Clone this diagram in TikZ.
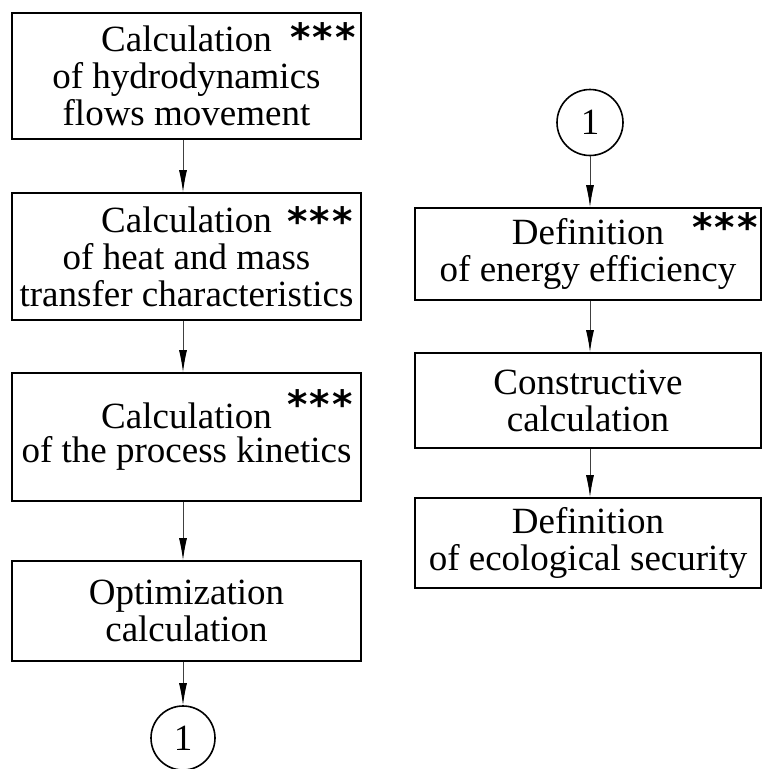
\documentclass[tikz,border=0pt]{standalone}
\usepackage{fontspec}
\setmainfont{Liberation Serif}
\newfontfamily\starfont{DejaVu Sans}
\usetikzlibrary{arrows.meta,positioning}

\begin{document}
\begin{tikzpicture}[x=1pt, y=-1pt,
    box/.style={draw, line width=1.6pt, inner sep=0pt, align=center, font=\fontsize{37}{37}\selectfont},
    lbox/.style={box, minimum width=349pt},
    rbox/.style={box, minimum width=346pt},
    conn/.style={circle, draw, line width=1.6pt, inner sep=0pt, font=\fontsize{37}{37}\selectfont},
    stars/.style={inner sep=0pt, font=\starfont\bfseries\fontsize{39}{39}\selectfont},
    arr/.style={draw=black!75, line width=1pt, -{Latex[length=22pt, width=8pt, color=black]}}]
    \useasboundingbox (0,0) rectangle (763,769);
    % left column
    \node[lbox, minimum height=126pt] (l1) at (186.5,76) {Calculation\\of hydrodynamics\\flows movement};
    \node[lbox, minimum height=127pt] (l2) at (186.5,256.5) {Calculation\\of heat and mass\\transfer characteristics};
    \node[lbox, minimum height=128pt, font=\fontsize{37}{34}\selectfont] (l3) at (186.5,437) {Calculation\\of the process kinetics};
    \node[lbox, minimum height=100pt] (l4) at (186.5,611) {Optimization\\calculation};
    \node[conn, minimum size=64pt] (c1) at (183,738) {1};
    % right column
    \node[conn, minimum size=66pt] (c2) at (590,122.5) {1};
    \node[rbox, minimum height=92pt] (r1) at (588,254) {Definition\\of energy efficiency};
    \node[rbox, minimum height=95pt] (r2) at (588,400.5) {Constructive\\calculation};
    \node[rbox, minimum height=90pt] (r3) at (588,543) {Definition\\of ecological security};
    % marks
    \node[stars, below left=10pt and 6pt of l1.north east] (s1) {*\hspace{2pt}*\hspace{2pt}*};
    \node[stars, below left=14pt and 9pt of l2.north east] (s2) {*\hspace{2pt}*\hspace{2pt}*};
    \node[stars, below left=17pt and 9pt of l3.north east] (s3) {*\hspace{2pt}*\hspace{2pt}*};
    \node[stars, below left=5pt and 4pt of r1.north east] (s4) {*\hspace{2pt}*\hspace{2pt}*};
    % arrows
    \draw[arr] (l1.south -| c1) -- (l2.north -| c1);
    \draw[arr] (l2.south -| c1) -- (l3.north -| c1);
    \draw[arr] (l3.south -| c1) -- (l4.north -| c1);
    \draw[arr] (l4.south -| c1) -- (c1.north);
    \draw[arr] (c2.south) -- (r1.north -| c2);
    \draw[arr] (r1.south -| c2) -- (r2.north -| c2);
    \draw[arr] (r2.south -| c2) -- (r3.north -| c2);
\end{tikzpicture}
\end{document}
